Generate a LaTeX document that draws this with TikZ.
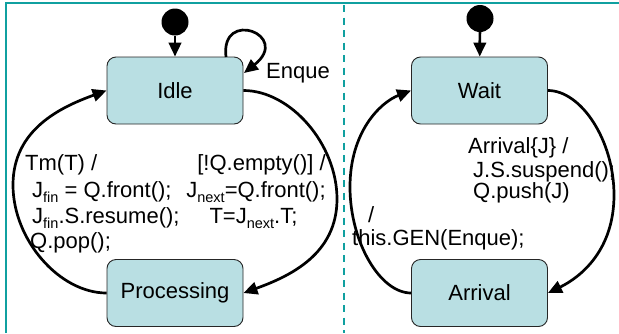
\documentclass[tikz,border=0pt]{standalone}
\usepackage{fontspec}
\setmainfont{Liberation Sans}
\usetikzlibrary{arrows.meta}
\definecolor{boxfill}{RGB}{185,223,227}
\definecolor{tealline}{RGB}{16,160,160}
\newcommand\lowsub[1]{\raisebox{-5pt}{\fontsize{14.5}{14.5}\selectfont #1}}
\begin{document}
\begin{tikzpicture}[x=1pt,y=-1pt,
  every node/.style={font=\fontsize{22}{26}\selectfont},
  state/.style={draw=black!85, line width=0.9pt, fill=boxfill, rounded corners=9pt,
    minimum width=136pt, minimum height=67pt, inner sep=0pt},
  trans/.style={line width=2.7pt, -{Triangle[length=14pt,width=12.5pt]}},
  initdot/.style={circle, fill=black, minimum size=27pt, inner sep=0pt},
  lbl/.style={inner sep=0pt, anchor=base west},
  lblc/.style={inner sep=0pt, anchor=base},
  frame/.style={draw=tealline, line width=2.4pt},
  divider/.style={draw=tealline, line width=2pt, dash pattern=on 7pt off 5.5pt},
]
\useasboundingbox (0,0) rectangle (619,333);
% frame
\draw[frame] (5.7,333) -- (5.7,2.8) -- (619,2.8);
\draw[divider] (344,5) -- (344,333);

% left machine
\node[state] (idle) at (175,90.5) {Idle};
\node[state] (proc) at (175,293) {Processing};
\node[initdot] (i1) at (175,22) {};
\draw[trans] (i1) -- (idle);

\coordinate (m1) at (13,185);
\coordinate (m2) at (337,199);
\draw[trans] (proc.west) .. controls +(-47,0) and +(0,55) .. (m1)
  .. controls +(0,-55) and +(-47,17) .. (idle.west);
\draw[trans] (idle.east) .. controls +(47,0) and +(0,-55) .. (m2)
  .. controls +(0,55) and +(47,-17) .. (proc.east);

\coordinate (ls) at (226,57);
\coordinate (le) at (244,73);
\draw[trans] (ls) .. controls (220,8) and (292,35) .. (le);
\node[lbl] (enq) at (266,78) {Enque};

\node[lbl] (ta) at (25,170) {Tm(T) /};
\node[lbl] (tb) at (32,197) {J\lowsub{fin} = Q.front();};
\node[lbl] (tc) at (32,223) {J\lowsub{fin}.S.resume();};
\node[lbl] (td) at (30,248) {Q.pop();};

\node[lblc] (ea) at (261.5,170) {[!Q.empty()] /};
\node[lblc] (eb) at (256,197) {J\lowsub{next}=Q.front();};
\node[lblc] (ec) at (253.5,223) {T=J\lowsub{next}.T;};

% right machine
\node[state] (wait) at (479.5,90.5) {Wait};
\node[state] (arrival) at (479.5,293) {Arrival};
\node[initdot] (i2) at (480,18.5) {};
\draw[trans] (i2) -- (wait);

\coordinate (m3) at (350,187);
\coordinate (m4) at (614,195);
\draw[trans] (arrival.west) .. controls +(-31,0) and +(0,55) .. (m3)
  .. controls +(0,-55) and +(-31,12) .. (wait.west);
\draw[trans] (wait.east) .. controls +(33,0) and +(0,-55) .. (m4)
  .. controls +(0,55) and +(33,-16) .. (arrival.east);

\node[lbl] (ra) at (468,153) {Arrival\{J\} /};
\node[lbl] (rb) at (473,177) {J.S.suspend();};
\node[lbl] (rc) at (473,198) {Q.push(J)};
\node[lbl] (rd) at (368,222) {/};
\node[lbl] (re) at (352,245) {this.GEN(Enque);};
\end{tikzpicture}
\end{document}
